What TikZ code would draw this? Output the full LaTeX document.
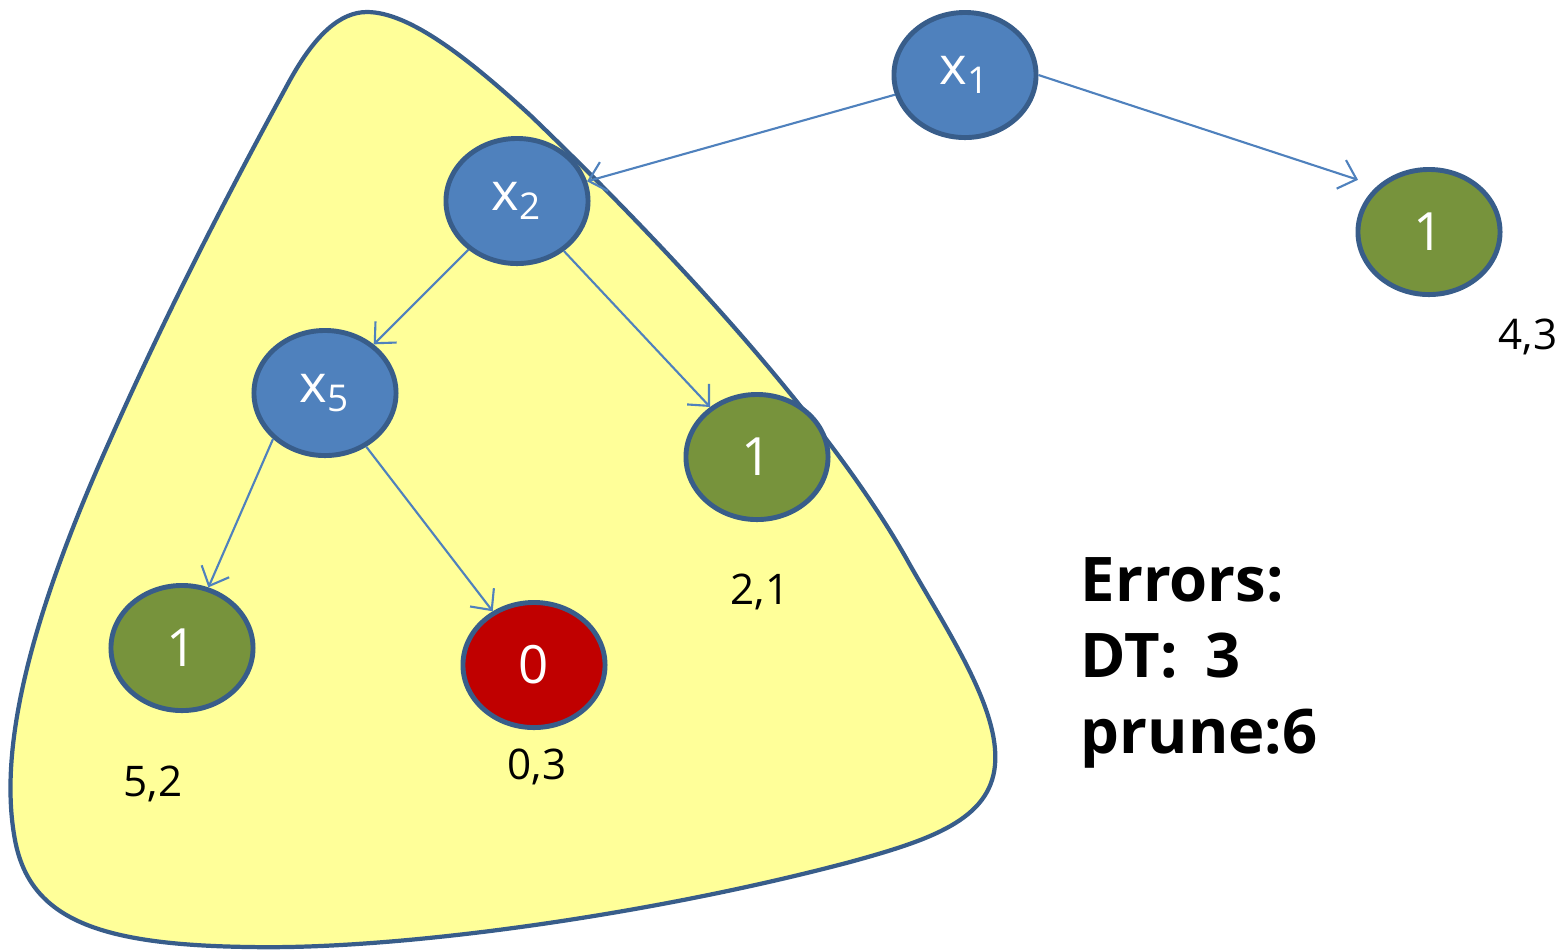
\documentclass[tikz,border=0pt]{standalone}
\usepackage{fontspec}
\setmainfont{Open Sans}
\usetikzlibrary{positioning, arrows.meta, calc, shapes.geometric}

\definecolor{nodeblue}{HTML}{4F81BD}
\definecolor{rimblue}{HTML}{385D8A}
\definecolor{leafgreen}{HTML}{77933C}
\definecolor{leafred}{HTML}{C00000}
\definecolor{blobyellow}{HTML}{FFFF99}

\begin{document}
\begin{tikzpicture}[x=0.01cm, y=-0.01cm,
	tnode/.style={ellipse, draw=rimblue, line width=1.4pt, minimum width=1.42cm, minimum height=1.25cm, inner sep=0pt, text=white, font=\fontsize{15}{17}\selectfont},
	split/.style={tnode, fill=nodeblue},
	leafpos/.style={tnode, fill=leafgreen},
	leafneg/.style={tnode, fill=leafred},
	branch/.style={draw=nodeblue, line width=0.6pt, -{Straight Barb[length=1.6mm, width=3mm]}},
	score/.style={font=\fontsize{12}{14}\selectfont}]
	\useasboundingbox (0,0) rectangle (1566,950);
	% pruned subtree
	\draw[fill=blobyellow, draw=rimblue, line width=1.2pt]
		(367,12) .. controls (410,12) and (470,60) .. (530,115)
		.. controls (660,240) and (830,420) .. (910,565)
		.. controls (950,635) and (1000,710) .. (995,765)
		.. controls (990,820) and (930,840) .. (850,862)
		.. controls (650,915) and (400,950) .. (250,947)
		.. controls (100,945) and (30,920) .. (15,840)
		.. controls (0,760) and (20,640) .. (110,440)
		.. controls (170,305) and (230,190) .. (290,80)
		.. controls (315,35) and (340,12) .. (367,12) -- cycle;
	% tree
	\node[split] (x1) at (965,75) {x\textsubscript{1}};
	\node[split] (x2) at (517,201) {x\textsubscript{2}};
	\node[split] (x5) at (325,393) {x\textsubscript{5}};
	\node[leafpos] (r1) at (1429,232) {1};
	\node[leafpos] (m1) at (757,457) {1};
	\node[leafpos] (l1) at (182,648) {1};
	\node[leafneg] (l0) at (534,665) {0};
	\draw[branch] (x1) -- (x2);
	\draw[branch, shorten >=0.2cm] (x1.east) -- (r1.north west);
	\draw[branch] (x2) -- (x5);
	\draw[branch] (x2) -- (m1);
	\draw[branch] (x5.south west) -- (l1);
	\draw[branch] (x5) -- (l0);
	% counts
	\node[score] (c1) at (1528,337) {4,3};
	\node[score] (c2) at (760,592) {2,1};
	\node[score] (c3) at (153,784) {5,2};
	\node[score] (c4) at (537,767) {0,3};
	\node[font=\fontsize{17.5}{21.5}\selectfont\bfseries, anchor=west, align=left, inner sep=0pt] (err) at (1080,663) {Errors:\\DT:\hspace{0.45em}3\\prune:6};
\end{tikzpicture}
\end{document}
